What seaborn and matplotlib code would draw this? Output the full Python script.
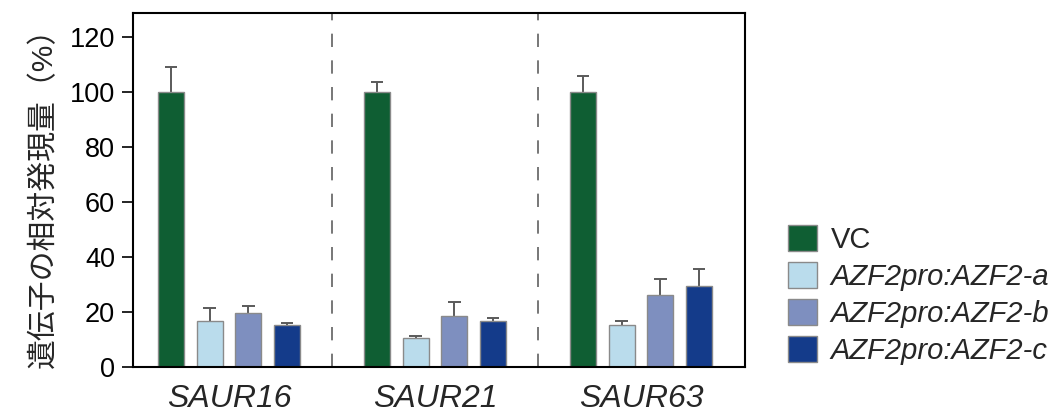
import matplotlib
matplotlib.use("Agg")
import matplotlib.pyplot as plt
import seaborn as sns
import pandas as pd

sns.set_theme(style="white")
plt.rcParams['font.family'] = ['Liberation Sans', 'Noto Sans CJK JP', 'DejaVu Sans']

# data
genes = ["SAUR16", "SAUR21", "SAUR63"]
lines = ["VC", "AZF2pro:AZF2-a", "AZF2pro:AZF2-b", "AZF2pro:AZF2-c"]
values = {
    "VC":             [100.0, 100.0, 100.0],
    "AZF2pro:AZF2-a": [16.7, 10.6, 15.2],
    "AZF2pro:AZF2-b": [19.7, 18.7, 26.3],
    "AZF2pro:AZF2-c": [15.3, 16.7, 29.6],
}
errors = {
    "VC":             [9.0, 3.4, 5.6],
    "AZF2pro:AZF2-a": [4.7, 0.8, 1.5],
    "AZF2pro:AZF2-b": [2.4, 4.9, 5.8],
    "AZF2pro:AZF2-c": [0.8, 1.2, 6.2],
}
colors = ["#0f5e33", "#badcec", "#7e8fbf", "#143b8a"]
yticks = [0, 20, 40, 60, 80, 100, 120]

rows = []
for ln in lines:
    for g, v in zip(genes, values[ln]):
        rows.append({"gene": g, "line": ln, "value": v})
df = pd.DataFrame(rows)

fig = plt.figure(figsize=(10.58, 4.15), dpi=100)
ax = fig.add_axes([0.1257, 0.115, 0.5785, 0.8537])

sns.barplot(data=df, x="gene", y="value", hue="line", hue_order=lines,
            order=genes, palette=colors, saturation=1, width=0.752, gap=0.33,
            errorbar=None, edgecolor="#8a8a8a", linewidth=1.0, ax=ax, zorder=2)

# upward-only error bars (stem + top cap)
cap = 0.03
for ln, cont in zip(lines, ax.containers):
    for bar, v, e in zip(cont, values[ln], errors[ln]):
        xc = bar.get_x() + bar.get_width() / 2
        ax.vlines(xc, v, v + e, color="#5a5a5a", lw=1.4, zorder=1)
        ax.hlines(v + e, xc - cap, xc + cap, color="#5a5a5a", lw=1.4, zorder=1)

# dashed group separators
for xd in [0.5, 1.5]:
    ax.axvline(xd, color="#606060", lw=1.2, ls=(0, (8, 8)), zorder=0)

ax.set_xlim(-0.466, 2.505)
ax.set_ylim(0, 128.6)
ax.set_yticks(yticks)
ax.tick_params(axis="y", labelsize=19.5, length=8, width=1.2, direction="out",
               left=True, pad=5, colors="black")
ax.tick_params(axis="x", length=0, pad=12)
for lab in ax.get_xticklabels():
    lab.set_fontsize(23)
    lab.set_fontstyle("italic")
ax.set_xlabel("")
ax.set_ylabel("遺伝子の相対発現量（%）", fontsize=21.5, labelpad=8)

for sp in ax.spines.values():
    sp.set_visible(True)
    sp.set_color("black")
    sp.set_linewidth(1.5)

handles, labels = ax.get_legend_handles_labels()
ax.get_legend().remove()
leg = fig.legend(handles, labels, loc="center left",
                 bbox_to_anchor=(0.745, 0.289), frameon=False, fontsize=21,
                 handlelength=1.0, handleheight=1.0, labelspacing=0.28,
                 handletextpad=0.45, borderaxespad=0, borderpad=0)
for t in leg.get_texts()[1:]:
    t.set_fontstyle("italic")

fig.savefig("out.png", dpi=100)
